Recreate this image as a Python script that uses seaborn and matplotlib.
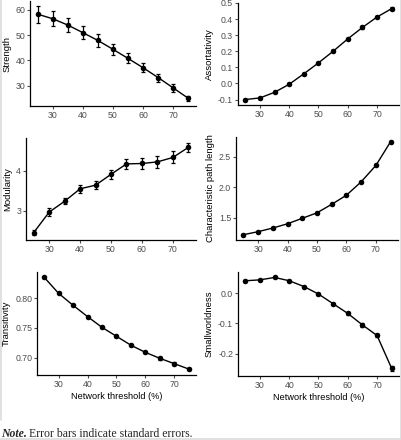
import numpy as np
import pandas as pd
import matplotlib
matplotlib.use("Agg")
import matplotlib.pyplot as plt
import seaborn as sns

# network thresholds (%)
threshold = [25, 30, 35, 40, 45, 50, 55, 60, 65, 70, 75]

strength = [58.3, 56.5, 54.0, 51.0, 47.9, 44.4, 40.8, 37.1, 33.2, 29.1, 25.0]
strength_se = [3.3, 3.0, 2.8, 2.6, 2.4, 2.2, 2.0, 1.8, 1.6, 1.4, 1.1]

assortativity = [-0.100, -0.090, -0.055, -0.005, 0.060, 0.128, 0.200, 0.277, 0.348, 0.413, 0.465]
assortativity_se = [0.005, 0.005, 0.005, 0.005, 0.005, 0.006, 0.006, 0.007, 0.007, 0.008, 0.009]

modularity = [2.46, 2.97, 3.24, 3.55, 3.64, 3.91, 4.17, 4.18, 4.22, 4.33, 4.58]
modularity_se = [0.07, 0.10, 0.08, 0.10, 0.10, 0.12, 0.13, 0.14, 0.14, 0.15, 0.12]

path_length = [1.22, 1.27, 1.33, 1.40, 1.49, 1.58, 1.72, 1.87, 2.09, 2.36, 2.75]
path_length_se = [0.01, 0.01, 0.01, 0.01, 0.01, 0.01, 0.01, 0.01, 0.01, 0.01, 0.01]

transitivity = [0.835, 0.808, 0.788, 0.769, 0.751, 0.736, 0.721, 0.709, 0.699, 0.690, 0.681]
transitivity_se = [0.001, 0.001, 0.001, 0.001, 0.001, 0.001, 0.001, 0.001, 0.002, 0.002, 0.002]

smallworld = [0.041, 0.044, 0.052, 0.041, 0.022, -0.003, -0.035, -0.067, -0.105, -0.140, -0.249]
smallworld_se = [0.002, 0.002, 0.002, 0.002, 0.002, 0.003, 0.003, 0.004, 0.006, 0.006, 0.008]

sns.set_style("ticks")
plt.rcParams["font.family"] = ["Liberation Sans", "DejaVu Sans"]

W, H = 402, 440
fig = plt.figure(figsize=(W / 100, H / 100), dpi=100)


def box(l, r, t, b):
    return [l / W, 1 - b / H, (r - l) / W, (b - t) / H]


panels = [
    # values, se, label, pixel box, ylim, yticks, ticklabels, xlabel
    (strength, strength_se, "Strength", box(30, 196, 1, 106), (22.0, 63.5),
     [30, 40, 50, 60], ["30", "40", "50", "60"], False),
    (assortativity, assortativity_se, "Assortativity", box(238, 399, 3, 105), (-0.134, 0.499),
     [-0.1, 0.0, 0.1, 0.2, 0.3, 0.4, 0.5], ["-0.1", "0.0", "0.1", "0.2", "0.3", "0.4", "0.5"], False),
    (modularity, modularity_se, "Modularity", box(26, 196, 138, 240), (2.275, 4.815),
     [3, 4], ["3", "4"], False),
    (path_length, path_length_se, "Characteristic path length", box(236, 398, 137, 240), (1.133, 2.827),
     [1.5, 2.0, 2.5], ["1.5", "2.0", "2.5"], False),
    (transitivity, transitivity_se, "Transitivity", box(37, 196, 272, 375), (0.671, 0.844),
     [0.70, 0.75, 0.80], ["0.70", "0.75", "0.80"], True),
    (smallworld, smallworld_se, "Smallworldness", box(238, 399, 272, 376), (-0.274, 0.070),
     [-0.2, -0.1, 0.0], ["-0.2", "-0.1", "0.0"], True),
]

for vals, se, label, pos, ylim, yt, ytl, show_x in panels:
    ax = fig.add_axes(pos)
    df = pd.DataFrame({"threshold": threshold, "value": vals, "se": se})
    ax.errorbar(df["threshold"], df["value"], yerr=df["se"], fmt="none",
                ecolor="black", elinewidth=0.9, capsize=1.6, capthick=0.9, zorder=2)
    sns.lineplot(data=df, x="threshold", y="value", color="black", linewidth=1.0, ax=ax, zorder=3)
    sns.scatterplot(data=df, x="threshold", y="value", color="black", s=16,
                    edgecolor="black", linewidth=0, ax=ax, zorder=4)
    ax.set_xlim(22.5, 77.5)
    ax.set_ylim(*ylim)
    ax.set_xticks([30, 40, 50, 60, 70])
    ax.set_xticklabels(["30", "40", "50", "60", "70"])
    ax.set_yticks(yt)
    ax.set_yticklabels(ytl)
    ax.set_ylabel(label, fontsize=6.8, color="black", labelpad=3)
    if show_x:
        ax.set_xlabel("Network threshold (%)", fontsize=6.6, color="black", labelpad=2.5)
    else:
        ax.set_xlabel("")
    ax.tick_params(labelsize=6.3, colors="#4d4d4d", length=2, width=0.8, pad=1.5)
    for s in ["left", "bottom"]:
        ax.spines[s].set_linewidth(0.9)
        ax.spines[s].set_color("black")
    sns.despine(ax=ax)

# note under the panels
note_font = ["Liberation Serif", "DejaVu Serif"]
t1 = fig.text(0.003, 1 - 437 / H, "Note.", family=note_font,
              fontsize=8.5, fontweight="bold", fontstyle="italic", va="baseline")
fig.canvas.draw()
bb = t1.get_window_extent(renderer=fig.canvas.get_renderer())
fig.text(bb.x1 / W + 0.006, 1 - 437 / H, "Error bars indicate standard errors.",
         family=note_font, fontsize=8.5, va="baseline")

# faint frame of the figure
for xs, ys in [([0.5 / W, 0.5 / W], [1, 1 - 420 / H]),
               ([1 - 1 / W, 1 - 1 / W], [1, 1 - 439 / H]),
               ([0, 1 - 1 / W], [1 - 439 / H, 1 - 439 / H])]:
    fig.add_artist(plt.Line2D(xs, ys, color="#dcdcdc", linewidth=1.2))

fig.savefig("out.png", dpi=100)
